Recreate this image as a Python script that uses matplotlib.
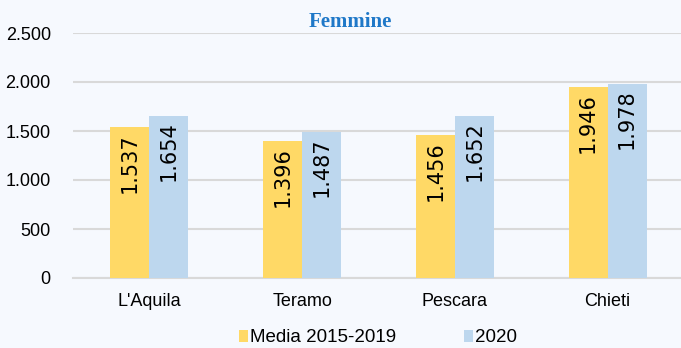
import matplotlib.pyplot as plt
import numpy as np
from matplotlib.ticker import FuncFormatter

# Decessi femmine per provincia: media 2015-2019 vs 2020
province = ["L'Aquila", "Teramo", "Pescara", "Chieti"]
media_2015_2019 = [1537, 1396, 1456, 1946]
anno_2020 = [1654, 1487, 1652, 1978]
serie_labels = ["Media 2015-2019", "2020"]

bg = "#F6F9FE"
giallo = "#FFD966"
azzurro = "#BDD7EE"
grid_col = "#D9D9D9"

plt.rcParams['font.family'] = ['Liberation Sans', 'DejaVu Sans']

fig = plt.figure(figsize=(6.81, 3.48), dpi=100, facecolor=bg)
ax = fig.add_axes([73 / 681, 70 / 348, 611 / 681, 245 / 348])
ax.set_facecolor(bg)

x = np.arange(len(province))
w = 0.255
b1 = ax.bar(x - w / 2, media_2015_2019, w, color=giallo, label=serie_labels[0], zorder=3)
b2 = ax.bar(x + w / 2, anno_2020, w, color=azzurro, label=serie_labels[1], zorder=3)


def fmt_it(v):
    return f"{int(v):,}".replace(",", ".")


# etichette valore ruotate dentro le barre
for bars, vals in [(b1, media_2015_2019), (b2, anno_2020)]:
    for rect, v in zip(bars, vals):
        ax.annotate(fmt_it(v), (rect.get_x() + rect.get_width() / 2, v),
                    xytext=(0, -4), textcoords='offset points',
                    rotation=90, ha='center', va='top',
                    fontsize=15, family='DejaVu Sans', color='black', zorder=4)

ax.set_xlim(-0.5, 3.5)
ax.set_ylim(0, 2500)
ax.set_yticks(range(0, 2501, 500))
ax.yaxis.set_major_formatter(FuncFormatter(lambda v, p: fmt_it(v)))
ax.set_xticks(x)
ax.set_xticklabels(province)
ax.tick_params(axis='y', length=0, pad=16, labelsize=13)
ax.tick_params(axis='x', length=0, pad=11, labelsize=13)

ax.grid(axis='y', color=grid_col, linewidth=1.5, zorder=0)
for s in ['top', 'right', 'left']:
    ax.spines[s].set_visible(False)
ax.spines['bottom'].set_color(grid_col)
ax.spines['bottom'].set_linewidth(1.5)

fig.text(350 / 681, 1 - 27 / 348, "Femmine", ha='center', va='baseline',
         family='Liberation Serif', fontweight='bold', fontsize=15, color="#1F78C8")

fig.legend(loc='center', bbox_to_anchor=(378 / 681, 10 / 348), ncol=2,
           frameon=False, fontsize=13.5, handlelength=0.5, handleheight=0.55,
           handletextpad=0.12, columnspacing=3.6, borderpad=0, borderaxespad=0)

fig.savefig("out.png", dpi=100, facecolor=bg)
